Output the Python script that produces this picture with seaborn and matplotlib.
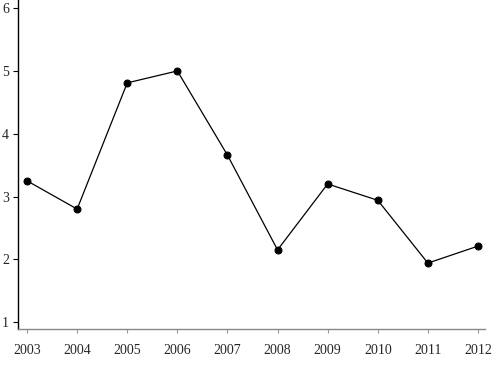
import matplotlib
matplotlib.use("Agg")
import matplotlib.pyplot as plt
import seaborn as sns
import pandas as pd

years = [2003, 2004, 2005, 2006, 2007, 2008, 2009, 2010, 2011, 2012]
values = [3.25, 2.80, 4.81, 5.00, 3.66, 2.15, 3.20, 2.94, 1.94, 2.21]
y_ticks = [1, 2, 3, 4, 5, 6]

sns.set_theme(style="white")
plt.rcParams['font.family'] = ['Liberation Serif', 'DejaVu Serif']

df = pd.DataFrame({"year": years, "value": values})

fig = plt.figure(figsize=(4.94, 3.76), dpi=100)
ax = fig.add_axes([18/494, 47/376, (485-18)/494, 329/376])
sns.lineplot(data=df, x="year", y="value", ax=ax, color="black", linewidth=0.9,
             marker="o", markersize=5, markeredgecolor="black", markerfacecolor="black")

ax.set_xlim(2002.82, 2012.14)
ax.set_ylim(0.89, 6.13)
ax.set_xticks(years)
ax.set_xticklabels([str(y) for y in years])
ax.set_yticks(y_ticks)
ax.set_yticklabels([str(t) for t in y_ticks])
ax.set_xlabel("")
ax.set_ylabel("")

for s in ["top", "right"]:
    ax.spines[s].set_visible(False)
ax.spines["left"].set_color("black")
ax.spines["left"].set_linewidth(1.0)
ax.spines["bottom"].set_color("#888888")
ax.spines["bottom"].set_linewidth(1.0)

ax.tick_params(axis="y", direction="out", length=3.5, width=0.8, color="black",
               labelsize=10, pad=3, left=True)
ax.tick_params(axis="x", direction="out", length=3, width=0.8, color="#999999",
               labelsize=10, pad=7.5, bottom=True)
ax.grid(False)

fig.savefig("out.png", dpi=100)
